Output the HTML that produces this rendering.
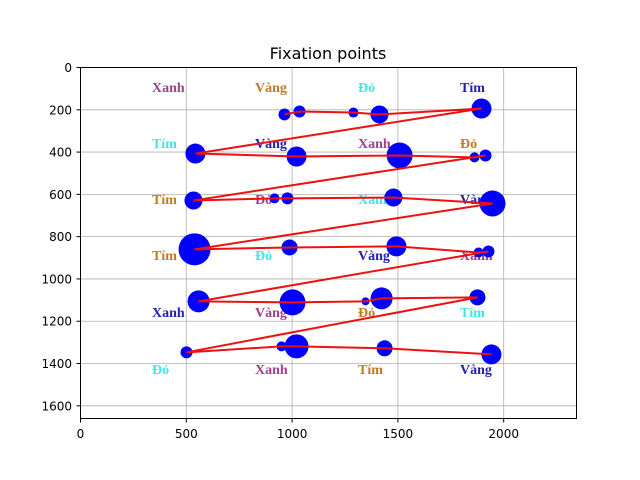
<!DOCTYPE html>
<html><head><meta charset="utf-8"><style>
body{margin:0;background:#fff}
svg{display:block;font-family:"DejaVu Sans","Liberation Sans",sans-serif}
.lbl{font-family:"Liberation Serif",serif;font-weight:bold;font-size:14px}
</style></head><body>
<svg id="chart" width="640" height="480" xmlns="http://www.w3.org/2000/svg">
<text x="328" y="59" text-anchor="middle" font-size="16">Fixation points</text>
<g id="stim"></g>
<g id="grid"></g>
<g id="marks"></g>
<rect x="80.5" y="67.5" width="496" height="351" fill="none" stroke="#000" stroke-width="1"/>
<g id="axes"></g>
</svg>
<script>
const xTicks=[0,500,1000,1500,2000];
const yTicks=[0,200,400,600,800,1000,1200,1400,1600];
const fixX=[964,1035,1290,1413,1895,543,1021,1508,1862,1914,534,917,978,1479,1947,539,988,1493,1881,1928,558,1002,1347,1423,1876,501,950,1021,1437,1942];
const fixY=[222,208,213,222,194,407,421,416,425,416,629,619,619,615,643,860,851,846,875,870,1106,1111,1106,1092,1087,1347,1319,1319,1328,1357];
const fixDur=[6,6,5,9,10,10,10,13,5,6,9,5,6,9,13,16,8,10,5,6,11,13,4,11,8,6,5,12,8,10];
const words=[["Xanh","Vàng","Đỏ","Tím"],["Tím","Vàng","Xanh","Đỏ"],["Tím","Đỏ","Xanh","Vàng"],["Tím","Đỏ","Vàng","Xanh"],["Xanh","Vàng","Đỏ","Tím"],["Đỏ","Xanh","Tím","Vàng"]];
const wordColors=[["p","o","c","n"],["c","n","p","o"],["o","p","c","n"],["o","c","n","p"],["n","p","o","c"],["c","p","o","n"]];
const X0=80.5,XS=496/2344,Y0=67.5,YS=351/1660;
const sx=v=>X0+v*XS, sy=v=>Y0+v*YS;
const NS="http://www.w3.org/2000/svg";
function mk(t,a,p){const e=document.createElementNS(NS,t);for(const k in a)e.setAttribute(k,a[k]);p.appendChild(e);return e;}
const col={p:"#a0408a",o:"#c07a20",c:"#40e6e6",n:"#2020b4"};
const stim=document.getElementById('stim');
const wx=[152,255,358,460],wy=[92,148,204,260,317,374];
words.forEach((r,i)=>r.forEach((w,j)=>{const t=mk('text',{x:wx[j],y:wy[i],fill:col[wordColors[i][j]],class:'lbl'},stim);t.textContent=w;

}));
const grid=document.getElementById('grid');
xTicks.forEach(v=>{const l=mk('line',{x1:sx(v),x2:sx(v),y1:67.5,y2:418.5,stroke:'#b0b0b0','stroke-width':0.8},grid);

});
yTicks.forEach(v=>{const l=mk('line',{x1:80.5,x2:576.5,y1:sy(v),y2:sy(v),stroke:'#b0b0b0','stroke-width':0.8},grid);

});
const marks=document.getElementById('marks');
fixX.forEach((x,i)=>{const c=mk('circle',{cx:sx(x),cy:sy(fixY[i]),r:fixDur[i],fill:'#0000ff'},marks);

});
const pl=mk('polyline',{points:fixX.map((x,i)=>sx(x)+','+sy(fixY[i])).join(' '),fill:'none',stroke:'#ee1111','stroke-width':2},marks);


const axes=document.getElementById('axes');
xTicks.forEach(v=>{mk('line',{x1:sx(v),x2:sx(v),y1:418.5,y2:422.5,stroke:'#000'},axes);
const t=mk('text',{x:sx(v),y:438,'text-anchor':'middle','font-size':12},axes);t.textContent=v;

});
yTicks.forEach(v=>{mk('line',{x1:76.5,x2:80.5,y1:sy(v),y2:sy(v),stroke:'#000'},axes);
const t=mk('text',{x:72,y:sy(v)+4.5,'text-anchor':'end','font-size':12},axes);t.textContent=v;

});
</script>
</body></html>
